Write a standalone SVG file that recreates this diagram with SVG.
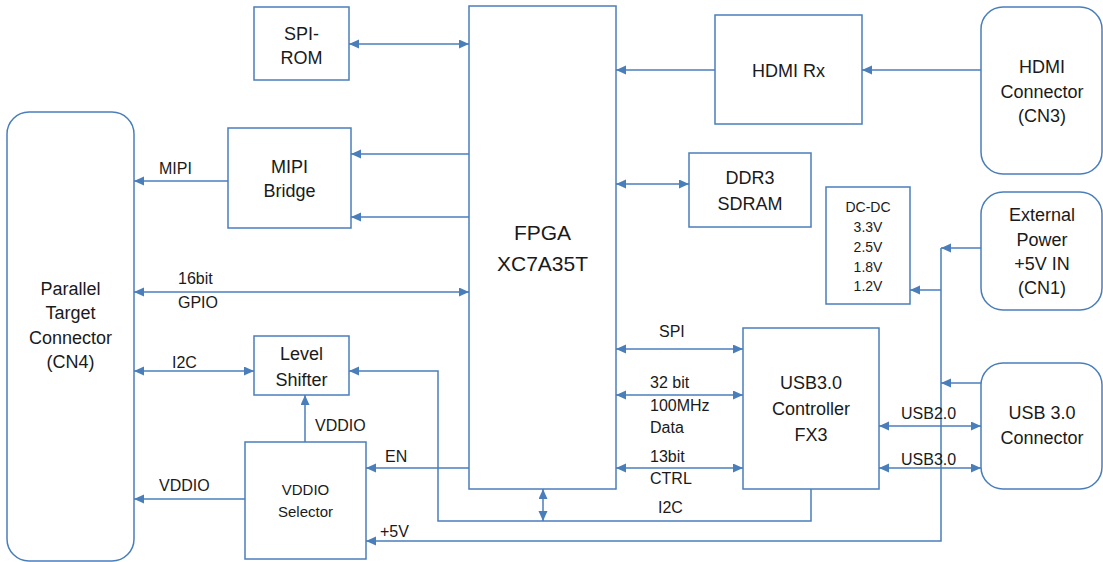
<svg xmlns="http://www.w3.org/2000/svg" width="1103" height="562" viewBox="0 0 1103 562">
<style>
.box{fill:#fff;stroke:#4a7ebb;stroke-width:1.5}
.ln{fill:none;stroke:#4a7ebb;stroke-width:1.5}
.a{marker-end:url(#ah)}
.b{marker-start:url(#ah);marker-end:url(#ah)}
text{font-family:"Liberation Sans",Arial,sans-serif;fill:#1a1a1a}
.t{font-size:18px;text-anchor:middle}
.s{font-size:16px}
.m{font-size:15px;text-anchor:middle}
.d{font-size:14px;text-anchor:middle}
.f{font-size:21px;text-anchor:middle}
</style>
<defs>
<marker id="ah" markerUnits="userSpaceOnUse" markerWidth="11" markerHeight="10" refX="10" refY="4.5" orient="auto-start-reverse" viewBox="0 0 11 10">
<path d="M0,0 L10,4.5 L0,9 z" fill="#4a7ebb"/>
</marker>
</defs>
<rect width="1103" height="562" fill="#fff"/>
<g id="connectors">
<line class="ln b" x1="349" y1="44" x2="469" y2="44"/>
<line class="ln a" x1="469" y1="154" x2="351" y2="154"/>
<line class="ln a" x1="469" y1="217" x2="351" y2="217"/>
<line class="ln a" x1="228" y1="181" x2="134" y2="181"/>
<line class="ln b" x1="134" y1="292" x2="469" y2="292"/>
<line class="ln b" x1="134" y1="371" x2="254" y2="371"/>
<line class="ln a" x1="305" y1="442" x2="305" y2="395"/>
<line class="ln a" x1="245" y1="499" x2="134" y2="499"/>
<line class="ln a" x1="469" y1="468" x2="366" y2="468"/>
<line class="ln a" x1="715" y1="70" x2="616" y2="70"/>
<line class="ln a" x1="981" y1="70" x2="862" y2="70"/>
<line class="ln b" x1="616" y1="184" x2="689" y2="184"/>
<line class="ln b" x1="616" y1="349" x2="743" y2="349"/>
<line class="ln b" x1="616" y1="395" x2="743" y2="395"/>
<line class="ln b" x1="616" y1="468" x2="743" y2="468"/>
<line class="ln b" x1="879" y1="426" x2="981" y2="426"/>
<line class="ln b" x1="879" y1="468" x2="981" y2="468"/>
<line class="ln a" x1="981" y1="248" x2="941" y2="248"/>
<line class="ln a" x1="981" y1="383" x2="941" y2="383"/>
<line class="ln a" x1="941" y1="290" x2="910" y2="290"/>
<polyline class="ln a" points="941,248 941,541 366,541"/>
<polyline class="ln a" points="811,489 811,521 438,521 438,371 349,371"/>
<line class="ln b" x1="543" y1="489" x2="543" y2="521"/>
</g>
<g id="spi-rom"><rect class="box" x="254" y="7" width="95" height="73"/><text class="t" x="301.5" y="40">SPI-</text><text class="t" x="301.5" y="64">ROM</text></g>
<g id="mipi-bridge"><rect class="box" x="228" y="128" width="123" height="100"/><text class="t" x="289.5" y="173">MIPI</text><text class="t" x="289.5" y="197">Bridge</text></g>
<g id="fpga"><rect class="box" x="469" y="6" width="147" height="483"/><text class="f" x="542.5" y="240">FPGA</text><text class="f" x="542.5" y="271">XC7A35T</text></g>
<g id="hdmi-rx"><rect class="box" x="715" y="15" width="147" height="109"/><text class="t" x="788.5" y="77">HDMI Rx</text></g>
<g id="hdmi-connector"><rect class="box" x="981" y="7" width="121" height="167" rx="22"/><text class="t" x="1042" y="73">HDMI</text><text class="t" x="1042" y="98">Connector</text><text class="t" x="1042" y="122">(CN3)</text></g>
<g id="ddr3"><rect class="box" x="689" y="153" width="122" height="74"/><text class="t" x="750" y="184">DDR3</text><text class="t" x="750" y="210">SDRAM</text></g>
<g id="dc-dc"><rect class="box" x="826" y="187" width="84" height="117"/><text class="d" x="868" y="212">DC-DC</text><text class="d" x="868" y="232">3.3V</text><text class="d" x="868" y="252">2.5V</text><text class="d" x="868" y="272">1.8V</text><text class="d" x="868" y="291">1.2V</text></g>
<g id="external-power"><rect class="box" x="981" y="192" width="121" height="118" rx="22"/><text class="t" x="1042" y="221">External</text><text class="t" x="1042" y="246">Power</text><text class="t" x="1042" y="270">+5V IN</text><text class="t" x="1042" y="294">(CN1)</text></g>
<g id="parallel-connector"><rect class="box" x="7" y="112" width="127" height="449" rx="22"/><text class="t" x="70.5" y="295">Parallel</text><text class="t" x="70.5" y="319">Target</text><text class="t" x="70.5" y="344">Connector</text><text class="t" x="70.5" y="368">(CN4)</text></g>
<g id="level-shifter"><rect class="box" x="254" y="336" width="95" height="59"/><text class="t" x="301.5" y="360">Level</text><text class="t" x="301.5" y="386">Shifter</text></g>
<g id="vddio-selector"><rect class="box" x="245" y="442" width="121" height="117"/><text class="m" x="305.5" y="495">VDDIO</text><text class="m" x="305.5" y="517">Selector</text></g>
<g id="usb-controller"><rect class="box" x="743" y="328" width="136" height="161"/><text class="t" x="811" y="389">USB3.0</text><text class="t" x="811" y="415">Controller</text><text class="t" x="811" y="441">FX3</text></g>
<g id="usb-connector"><rect class="box" x="981" y="363" width="121" height="126" rx="22"/><text class="t" x="1042" y="419">USB 3.0</text><text class="t" x="1042" y="444">Connector</text></g>
<g id="labels">
<text class="s" x="159" y="174">MIPI</text>
<text class="s" x="178" y="284">16bit</text>
<text class="s" x="178" y="308">GPIO</text>
<text class="s" x="172" y="368">I2C</text>
<text class="s" x="315" y="431">VDDIO</text>
<text class="s" x="159" y="491">VDDIO</text>
<text class="s" x="385" y="462">EN</text>
<text class="s" x="380" y="537">+5V</text>
<text class="s" x="659" y="337">SPI</text>
<text class="s" x="650" y="388">32 bit</text>
<text class="s" x="650" y="411">100MHz</text>
<text class="s" x="650" y="433">Data</text>
<text class="s" x="650" y="462">13bit</text>
<text class="s" x="650" y="484">CTRL</text>
<text class="s" x="658" y="513">I2C</text>
<text class="s" x="901" y="419">USB2.0</text>
<text class="s" x="901" y="465">USB3.0</text>
</g>
</svg>
